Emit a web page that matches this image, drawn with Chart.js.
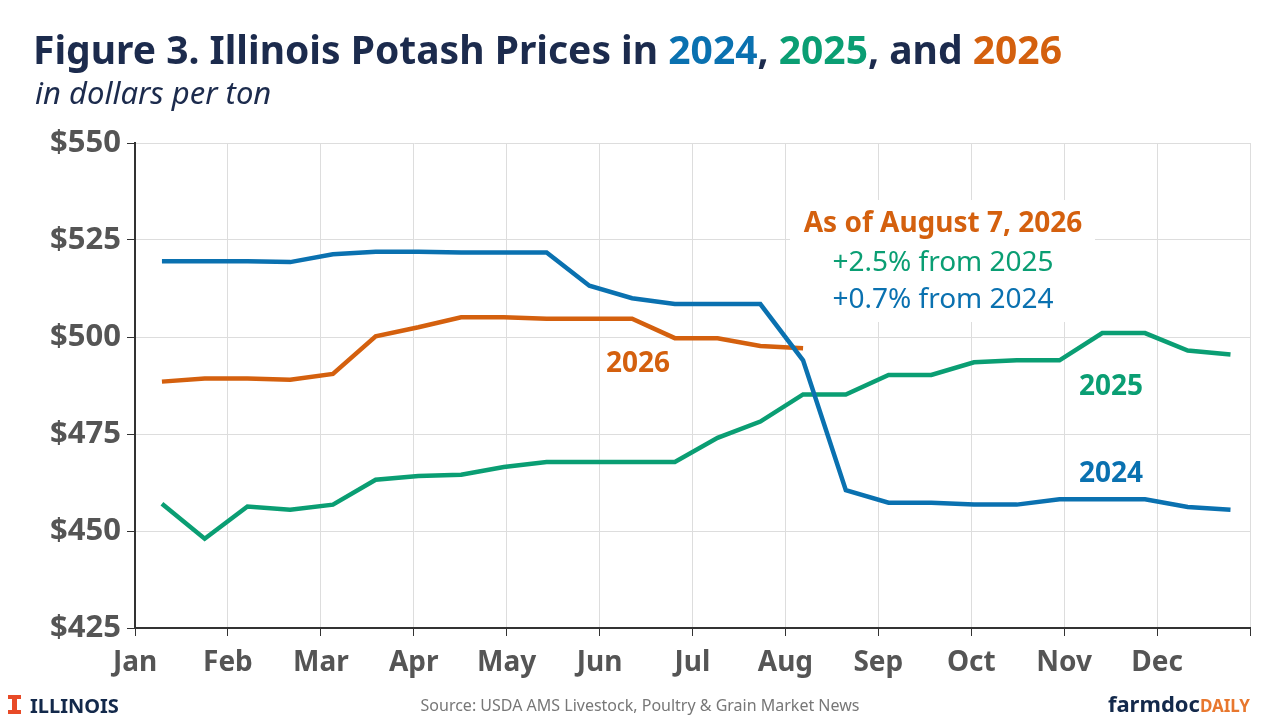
<!DOCTYPE html>
<html><head><meta charset="utf-8">
<script src="https://cdn.jsdelivr.net/npm/chart.js@4"></script>
<style>html,body{margin:0;padding:0;background:#fff}#wrap{width:1280px;height:720px}</style>
</head><body><div id="wrap"><canvas id="c"></canvas></div>
<script>
const months = ['Jan','Feb','Mar','Apr','May','Jun','Jul','Aug','Sep','Oct','Nov','Dec'];
const yTicks = [425, 450, 475, 500, 525, 550];
// biweekly observations, x in months from Jan 1
const obsX = [0.29,0.75,1.21,1.67,2.13,2.59,3.05,3.51,3.97,4.43,4.89,5.35,5.81,6.27,6.73,7.19,7.65,8.11,8.57,9.03,9.49,9.95,10.41,10.87,11.33,11.79];
const p2024 = [519.5,519.5,519.5,519.3,521.3,522,522,521.8,521.8,521.8,513.2,510,508.5,508.5,508.5,494,460.5,457.3,457.3,456.8,456.8,458.2,458.2,458.2,456.2,455.5];
const p2025 = [457,448,456.3,455.5,456.8,463.2,464.2,464.5,466.5,467.8,467.8,467.8,467.8,474,478.2,485.2,485.2,490.2,490.2,493.5,494,494,501,501,496.5,495.5];
const p2026 = [488.5,489.3,489.3,489,490.5,500.2,502.5,505.1,505.1,504.7,504.7,504.7,499.7,499.7,497.7,497.1];

const BLUE = '#0a71b0', GREEN = '#0a9e73', ORANGE = '#d4600e', NAVY = '#1c2b4d', GRAY = '#555';
const F = '"Noto Sans", sans-serif';
const pts = arr => arr.map((v, i) => ({x: obsX[i], y: v}));

const decor = {
  id: 'decor',
  beforeDatasetsDraw(chart) {
    const c = chart.ctx;
    c.save();
    c.fillStyle = '#fff';
    c.fillRect(790, 200, 305, 122);
    c.restore();
  },
  afterDraw(chart) {
    const c = chart.ctx;
    c.save();
    c.textBaseline = 'alphabetic';
    c.textAlign = 'left';
    c.font = 'bold 39px ' + F;
    let x = 33;
    const parts = [['Figure 3. Illinois Potash Prices in ', NAVY], ['2024', BLUE], [', ', NAVY], ['2025', GREEN], [', and ', NAVY], ['2026', ORANGE]];
    parts.forEach(([t, col]) => { c.fillStyle = col; c.fillText(t, x, 64); x += c.measureText(t).width; });
    c.fillStyle = NAVY;
    c.font = 'italic 31px ' + F;
    c.fillText('in dollars per ton', 35, 104);

    c.textAlign = 'center';
    c.font = 'bold 28px ' + F;
    c.fillStyle = ORANGE; c.fillText('As of August 7, 2026', 943, 232);
    c.font = '28px ' + F;
    c.fillStyle = GREEN; c.fillText('+2.5% from 2025', 943, 271);
    c.fillStyle = BLUE; c.fillText('+0.7% from 2024', 943, 308);
    c.font = 'bold 28px ' + F;
    c.fillStyle = ORANGE; c.fillText('2026', 638, 372);
    c.fillStyle = GREEN; c.fillText('2025', 1111, 395);
    c.fillStyle = BLUE; c.fillText('2024', 1111, 482);

    c.font = '16px ' + F;
    c.fillStyle = '#777';
    c.fillText('Source: USDA AMS Livestock, Poultry & Grain Market News', 640, 711);
    c.textAlign = 'left';
    c.fillStyle = '#e84a27';
    c.fillRect(12, 695, 5, 19);
    c.fillRect(8, 695, 13, 4); c.fillRect(8, 710, 13, 4);
    c.fillStyle = '#13294b';
    c.font = 'bold 20px ' + F;
    c.fillText('ILLINOIS', 30, 713);
    c.textAlign = 'right';
    const dw = (c.font = 'bold 17px ' + F, c.measureText('DAILY').width);
    c.fillStyle = '#e8772e'; c.fillText('DAILY', 1250, 712);
    c.font = 'bold 22px ' + F;
    c.fillStyle = '#13294b'; c.fillText('farmdoc', 1250 - dw, 712);
    c.restore();
  }
};

new Chart(document.getElementById('c'), {
  type: 'line',
  data: {
    datasets: [
      {label: '2024', data: pts(p2024), borderColor: BLUE},
      {label: '2025', data: pts(p2025), borderColor: GREEN},
      {label: '2026', data: pts(p2026), borderColor: ORANGE}
    ].map(d => Object.assign(d, {borderWidth: 4.5, pointRadius: 0, tension: 0, fill: false}))
  },
  options: {
    responsive: true, maintainAspectRatio: false, animation: false,
    layout: {padding: {top: 143, right: 30, left: 0, bottom: 0}},
    plugins: {legend: {display: false}, tooltip: {enabled: false}},
    scales: {
      x: {
        type: 'linear', min: 0, max: 12,
        afterFit: s => { s.height = 92; },
        afterBuildTicks: s => { s.ticks = months.map((m, i) => ({value: i})).concat([{value: 12}]); },
        ticks: {autoSkip: false, maxRotation: 0, padding: 10, color: GRAY, font: {family: F, size: 28, weight: 'bold'},
          callback: v => months[v] || ''},
        grid: {color: '#ddd', lineWidth: 1, tickLength: 8, tickColor: '#333'},
        border: {color: '#333', width: 2}
      },
      y: {
        min: 425, max: 550,
        afterFit: s => { s.width = 135; },
        afterBuildTicks: s => { s.ticks = yTicks.map(v => ({value: v})); },
        ticks: {padding: 6, color: GRAY, font: {family: F, size: 31, weight: 'bold'}, callback: v => '$' + v},
        grid: {color: '#ddd', lineWidth: 1, tickLength: 8, tickColor: '#333'},
        border: {color: '#333', width: 2}
      }
    }
  },
  plugins: [decor]
});
</script></body></html>
